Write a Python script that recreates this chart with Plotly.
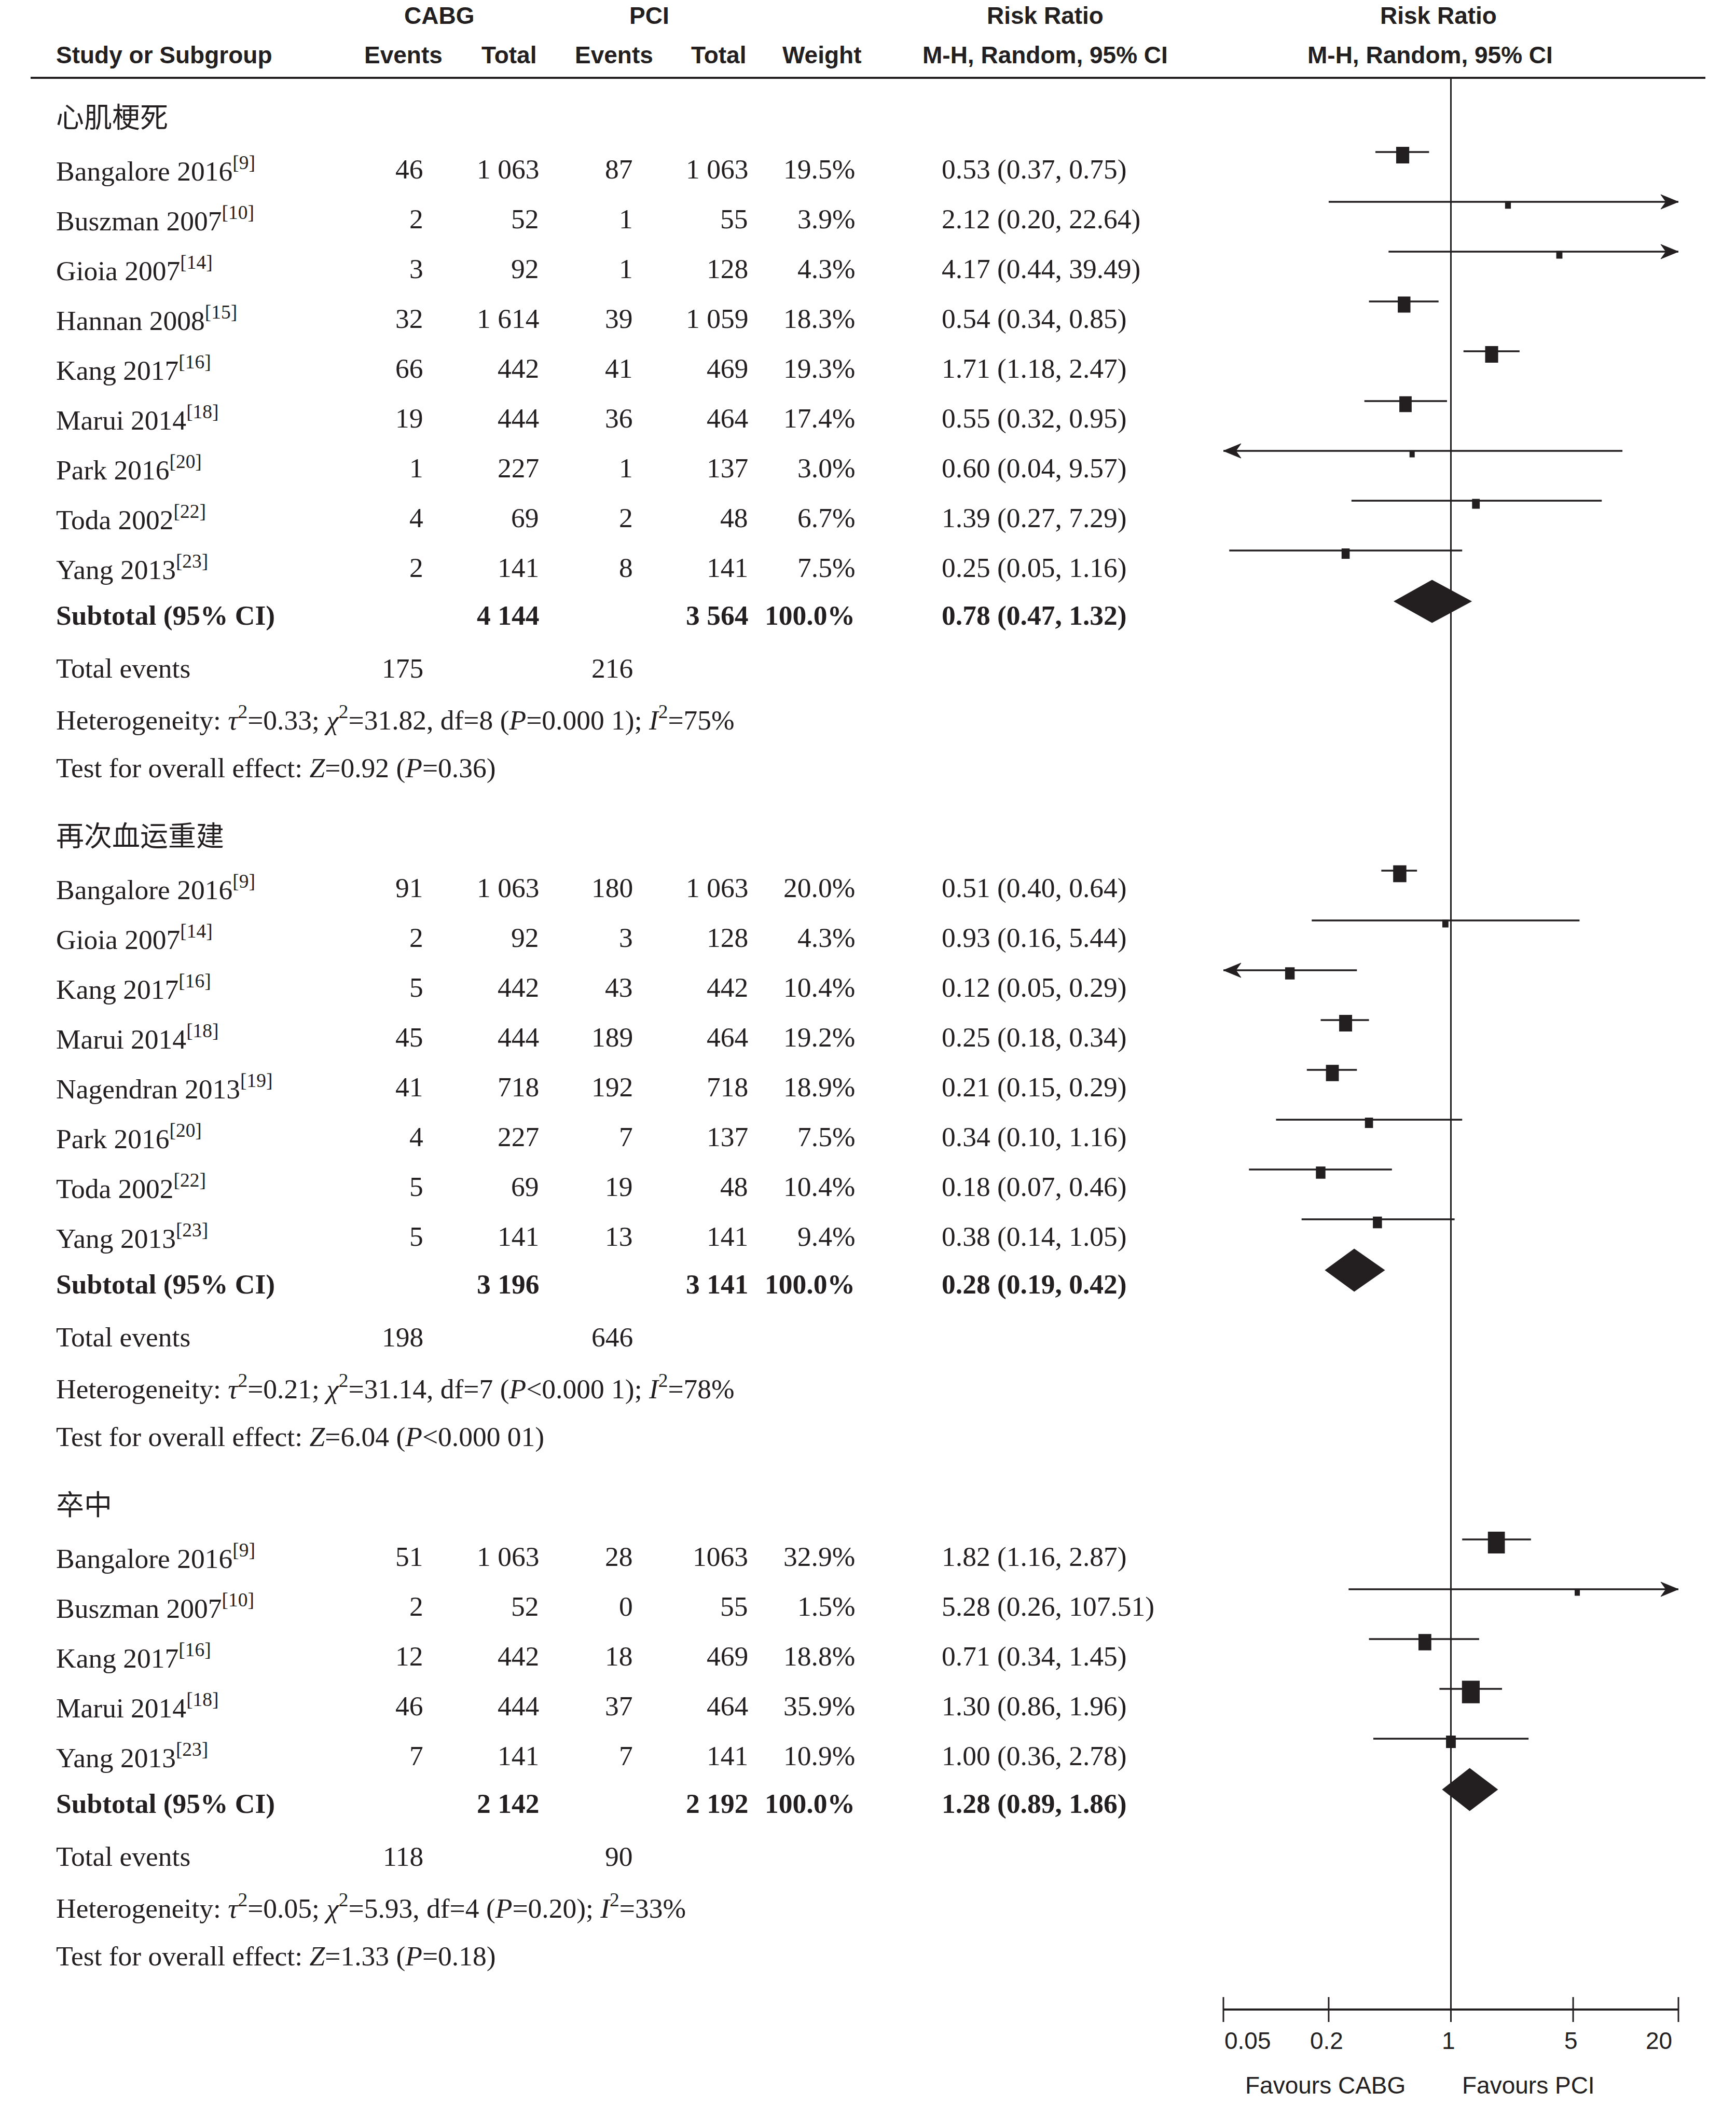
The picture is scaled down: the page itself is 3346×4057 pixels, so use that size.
import math
import plotly.graph_objects as go

W, H = 3346, 4057
INK = "#231f20"

# ------------------------------------------------------------------ data
group_titles = ["心肌梗死", "再次血运重建", "卒中"]

mi_study = ["Bangalore 2016", "Buszman 2007", "Gioia 2007", "Hannan 2008", "Kang 2017",
            "Marui 2014", "Park 2016", "Toda 2002", "Yang 2013"]
mi_ref = [9, 10, 14, 15, 16, 18, 20, 22, 23]
mi_cabg_events = [46, 2, 3, 32, 66, 19, 1, 4, 2]
mi_cabg_total = ["1 063", "52", "92", "1 614", "442", "444", "227", "69", "141"]
mi_pci_events = [87, 1, 1, 39, 41, 36, 1, 2, 8]
mi_pci_total = ["1 063", "55", "128", "1 059", "469", "464", "137", "48", "141"]
mi_weight = [19.5, 3.9, 4.3, 18.3, 19.3, 17.4, 3.0, 6.7, 7.5]
mi_rr = [0.53, 2.12, 4.17, 0.54, 1.71, 0.55, 0.60, 1.39, 0.25]
mi_lo = [0.37, 0.20, 0.44, 0.34, 1.18, 0.32, 0.04, 0.27, 0.054]
mi_hi = [0.75, 22.64, 39.49, 0.85, 2.47, 0.95, 9.57, 7.29, 1.16]

rv_study = ["Bangalore 2016", "Gioia 2007", "Kang 2017", "Marui 2014", "Nagendran 2013",
            "Park 2016", "Toda 2002", "Yang 2013"]
rv_ref = [9, 14, 16, 18, 19, 20, 22, 23]
rv_cabg_events = [91, 2, 5, 45, 41, 4, 5, 5]
rv_cabg_total = ["1 063", "92", "442", "444", "718", "227", "69", "141"]
rv_pci_events = [180, 3, 43, 189, 192, 7, 19, 13]
rv_pci_total = ["1 063", "128", "442", "464", "718", "137", "48", "141"]
rv_weight = [20.0, 4.3, 10.4, 19.2, 18.9, 7.5, 10.4, 9.4]
rv_rr = [0.51, 0.93, 0.12, 0.25, 0.21, 0.34, 0.18, 0.38]
rv_lo = [0.40, 0.16, 0.049, 0.18, 0.15, 0.10, 0.07, 0.14]
rv_hi = [0.64, 5.44, 0.29, 0.34, 0.29, 1.16, 0.46, 1.05]

st_study = ["Bangalore 2016", "Buszman 2007", "Kang 2017", "Marui 2014", "Yang 2013"]
st_ref = [9, 10, 16, 18, 23]
st_cabg_events = [51, 2, 12, 46, 7]
st_cabg_total = ["1 063", "52", "442", "444", "141"]
st_pci_events = [28, 0, 18, 37, 7]
st_pci_total = ["1063", "55", "469", "464", "141"]
st_weight = [32.9, 1.5, 18.8, 35.9, 10.9]
st_rr = [1.82, 5.28, 0.71, 1.30, 1.00]
st_lo = [1.16, 0.26, 0.34, 0.86, 0.36]
st_hi = [2.87, 107.51, 1.45, 1.96, 2.78]

sub_cabg_total = ["4 144", "3 196", "2 142"]
sub_pci_total = ["3 564", "3 141", "2 192"]
sub_weight = [100.0, 100.0, 100.0]
sub_rr = [0.78, 0.28, 1.28]
sub_lo = [0.47, 0.19, 0.89]
sub_hi = [1.32, 0.42, 1.86]
tot_cabg_events = [175, 198, 118]
tot_pci_events = [216, 646, 90]
het_tau2 = ["0.33", "0.21", "0.05"]
het_chi2 = ["31.82", "31.14", "5.93"]
het_df = [8, 7, 4]
het_p = ["=0.000 1", "<0.000 1", "=0.20"]
het_i2 = [75, 78, 33]
eff_z = ["0.92", "6.04", "1.33"]
eff_p = ["=0.36", "<0.000 01", "=0.18"]

axis_ticks = [0.05, 0.2, 1, 5, 20]
axis_tick_labels = ["0.05", "0.2", "1", "5", "20"]

# ------------------------------------------------------------------ layout constants
XMIN, XMAX = 0.05, 20
X_PX_MIN, X_PX_MAX = 2358, 3235
PXD = (X_PX_MAX - X_PX_MIN) / (math.log10(XMAX) - math.log10(XMIN))  # px per decade
R_LO, R_HI = math.log10(0.03), math.log10(33)
dom0 = (X_PX_MIN - (math.log10(XMIN) - R_LO) * PXD) / W
dom1 = (X_PX_MAX + (R_HI - math.log10(XMAX)) * PXD) / W

X_STUDY, X_CE, X_CT, X_PE, X_PT, X_W, X_RR = 106, 818, 1041, 1222, 1444, 1650, 1813
Y_HEAD1, Y_HEAD2, Y_RULE = 30, 106, 150
Y_TITLE0 = 222
GAP_TITLE, GAP_ROW, GAP_SUB, GAP_TOT, GAP_INFO, GAP_NEXT = 104, 96, 92, 102, 96, 127
Y_AXIS = 3873
TEXT_DY = 0          # calibration of annotation vertical position
LINE_DY = -33        # CI line relative to text row
BOX_DY = 6           # box centre relative to CI line
DIA_DY = -27         # diamond centre relative to text row
DIA_HALF = 41.5

SANS = "Liberation Sans Narrow, Arial Narrow, Liberation Sans, Arial, sans-serif"
FONT_HEAD = dict(family=SANS, size=46, color=INK)
FONT_SANS = dict(family=SANS, size=46, color=INK)
FONT_BODY = dict(family="Liberation Serif, Times New Roman, serif", size=53.5, color=INK)
FONT_CJK = dict(family="Noto Sans CJK SC, Noto Sans CJK JP, sans-serif", size=54, color=INK)

annotations = []


def ann(xpx, ypx, text, xanchor, font):
    annotations.append(dict(x=xpx / W, xref="paper", y=ypx + TEXT_DY, yref="y", text=text,
                            xanchor=xanchor, yanchor="middle", showarrow=False, font=font))


# ------------------------------------------------------------------ header
ann(846, Y_HEAD1, "<b>CABG</b>", "center", FONT_HEAD)
ann(1251, Y_HEAD1, "<b>PCI</b>", "center", FONT_HEAD)
ann(2015, Y_HEAD1, "<b>Risk Ratio</b>", "center", FONT_HEAD)
ann(2772, Y_HEAD1, "<b>Risk Ratio</b>", "center", FONT_HEAD)
ann(X_STUDY, Y_HEAD2, "<b>Study or Subgroup</b>", "left", FONT_HEAD)
ann(777, Y_HEAD2, "<b>Events</b>", "center", FONT_HEAD)
ann(981, Y_HEAD2, "<b>Total</b>", "center", FONT_HEAD)
ann(1183, Y_HEAD2, "<b>Events</b>", "center", FONT_HEAD)
ann(1385, Y_HEAD2, "<b>Total</b>", "center", FONT_HEAD)
ann(1584, Y_HEAD2, "<b>Weight</b>", "center", FONT_HEAD)
ann(2015, Y_HEAD2, "<b>M-H, Random, 95% CI</b>", "center", FONT_HEAD)
ann(2756, Y_HEAD2, "<b>M-H, Random, 95% CI</b>", "center", FONT_HEAD)

shapes = [dict(type="line", xref="paper", yref="y", x0=59 / W, x1=3287 / W, y0=Y_RULE, y1=Y_RULE,
               line=dict(color=INK, width=4))]

# ------------------------------------------------------------------ rows
groups = [
    (mi_study, mi_ref, mi_cabg_events, mi_cabg_total, mi_pci_events, mi_pci_total, mi_weight, mi_rr, mi_lo, mi_hi),
    (rv_study, rv_ref, rv_cabg_events, rv_cabg_total, rv_pci_events, rv_pci_total, rv_weight, rv_rr, rv_lo, rv_hi),
    (st_study, st_ref, st_cabg_events, st_cabg_total, st_pci_events, st_pci_total, st_weight, st_rr, st_lo, st_hi),
]

ci_x, ci_y = [], []
box_x, box_y = [], []
arr_x, arr_y = [], []
dia_x, dia_y = [], []


def shift(v, px):
    return v * 10 ** (px / PXD)


y = Y_TITLE0
for g, (study, ref, ce, ct, pe, pt, wt, rr, lo, hi) in enumerate(groups):
    ann(X_STUDY, y, group_titles[g], "left", FONT_CJK)
    y += GAP_TITLE
    for i in range(len(study)):
        ann(X_STUDY, y, f"{study[i]}<sup>[{ref[i]}]</sup>", "left", FONT_BODY)
        ann(X_CE, y, str(ce[i]), "right", FONT_BODY)
        ann(X_CT, y, ct[i], "right", FONT_BODY)
        ann(X_PE, y, str(pe[i]), "right", FONT_BODY)
        ann(X_PT, y, pt[i], "right", FONT_BODY)
        ann(X_W, y, f"{wt[i]:.1f}%", "right", FONT_BODY)
        ann(X_RR, y, f"{rr[i]:.2f} ({lo[i]:.2f}, {hi[i]:.2f})", "left", FONT_BODY)
        yl = y + LINE_DY
        a = max(lo[i], XMIN)
        b = min(hi[i], XMAX)
        ci_x += [a, b, None]
        ci_y += [yl, yl, None]
        if lo[i] < XMIN:
            arr_x += [XMIN, shift(XMIN, 34), shift(XMIN, 24), shift(XMIN, 34), XMIN, None]
            arr_y += [yl, yl - 14, yl, yl + 14, yl, None]
        if hi[i] > XMAX:
            arr_x += [XMAX, shift(XMAX, -34), shift(XMAX, -24), shift(XMAX, -34), XMAX, None]
            arr_y += [yl, yl - 14, yl, yl + 14, yl, None]
        bw = max(5.7 * math.sqrt(wt[i]), 10) / 2
        bh = max(7.3 * math.sqrt(wt[i]), 13) / 2
        yb = yl + BOX_DY
        box_x += [shift(rr[i], -bw), shift(rr[i], bw), shift(rr[i], bw), shift(rr[i], -bw), shift(rr[i], -bw), None]
        box_y += [yb - bh, yb - bh, yb + bh, yb + bh, yb - bh, None]
        y += GAP_ROW
    y += GAP_SUB - GAP_ROW
    bold = dict(FONT_BODY)
    ann(X_STUDY, y, "<b>Subtotal (95% CI)</b>", "left", bold)
    ann(X_CT, y, f"<b>{sub_cabg_total[g]}</b>", "right", bold)
    ann(X_PT, y, f"<b>{sub_pci_total[g]}</b>", "right", bold)
    ann(X_W, y, f"<b>{sub_weight[g]:.1f}%</b>", "right", bold)
    ann(X_RR, y, f"<b>{sub_rr[g]:.2f} ({sub_lo[g]:.2f}, {sub_hi[g]:.2f})</b>", "left", bold)
    yd = y + DIA_DY
    dia_x += [sub_lo[g], sub_rr[g], sub_hi[g], sub_rr[g], sub_lo[g], None]
    dia_y += [yd, yd - DIA_HALF, yd, yd + DIA_HALF, yd, None]
    y += GAP_TOT
    ann(X_STUDY, y, "Total events", "left", FONT_BODY)
    ann(X_CE, y, str(tot_cabg_events[g]), "right", FONT_BODY)
    ann(X_PE, y, str(tot_pci_events[g]), "right", FONT_BODY)
    y += GAP_INFO
    ann(X_STUDY, y,
        f"Heterogeneity: <i>τ</i><sup>2</sup>={het_tau2[g]}; <i>χ</i><sup>2</sup>={het_chi2[g]}, "
        f"df={het_df[g]} (<i>P</i>{het_p[g]}); <i>I</i><sup>2</sup>={het_i2[g]}%",
        "left", FONT_BODY)
    y += GAP_INFO
    ann(X_STUDY, y, f"Test for overall effect: <i>Z</i>={eff_z[g]} (<i>P</i>{eff_p[g]})", "left", FONT_BODY)
    y += GAP_NEXT

# ------------------------------------------------------------------ traces
fig = go.Figure()
line_style = dict(color=INK, width=3.5)
fig.add_trace(go.Scatter(x=[1, 1], y=[Y_RULE, Y_AXIS], mode="lines",
                         line=dict(color=INK, width=3), hoverinfo="skip"))
fig.add_trace(go.Scatter(x=ci_x, y=ci_y, mode="lines", line=line_style, hoverinfo="skip"))
fig.add_trace(go.Scatter(x=arr_x, y=arr_y, mode="lines", fill="toself", fillcolor=INK,
                         line=dict(color=INK, width=1), hoverinfo="skip"))
fig.add_trace(go.Scatter(x=box_x, y=box_y, mode="lines", fill="toself", fillcolor=INK,
                         line=dict(color=INK, width=0), hoverinfo="skip"))
fig.add_trace(go.Scatter(x=dia_x, y=dia_y, mode="lines", fill="toself", fillcolor=INK,
                         line=dict(color=INK, width=0), hoverinfo="skip"))

# custom axis
fig.add_trace(go.Scatter(x=[XMIN, XMAX], y=[Y_AXIS, Y_AXIS], mode="lines",
                         line=dict(color=INK, width=4), hoverinfo="skip"))
tx, ty = [], []
for v in axis_ticks:
    tx += [v, v, None]
    ty += [Y_AXIS - 24, Y_AXIS + 24, None]
fig.add_trace(go.Scatter(x=tx, y=ty, mode="lines", line=dict(color=INK, width=3), hoverinfo="skip"))

for v, lab in zip(axis_ticks, axis_tick_labels):
    if v == XMIN:
        xa, xs = "left", 0
    elif v == XMAX:
        xa, xs = "right", -10
    else:
        xa, xs = "center", -4
    annotations.append(dict(x=math.log10(v), xref="x", y=3933 + TEXT_DY, yref="y", text=lab,
                            xanchor=xa, xshift=xs, yanchor="middle", showarrow=False, font=FONT_SANS))
ann(2554, 4019, "Favours CABG", "center", FONT_SANS)
ann(2946, 4019, "Favours PCI", "center", FONT_SANS)

fig.update_layout(
    width=W, height=H,
    margin=dict(l=0, r=0, t=0, b=0),
    paper_bgcolor="white", plot_bgcolor="white",
    showlegend=False, hovermode=False,
    xaxis=dict(type="log", range=[R_LO, R_HI], domain=[dom0, dom1], visible=False),
    yaxis=dict(range=[H, 0], domain=[0, 1], visible=False),
    annotations=annotations,
    shapes=shapes,
)

fig.write_html("out.html", config={"displayModeBar": False, "staticPlot": True},
               post_script="document.body.style.margin='0px';")
